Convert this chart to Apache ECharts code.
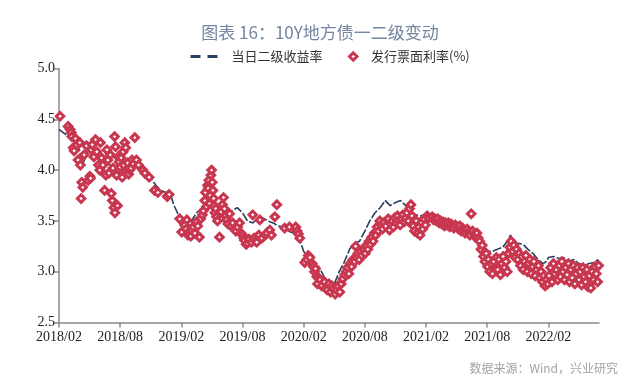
<!DOCTYPE html>
<html>
<head>
<meta charset="utf-8">
<script src="https://cdn.jsdelivr.net/npm/echarts@6/dist/echarts.min.js"></script>
<style>html,body{margin:0;padding:0;background:#fff;}#c{width:640px;height:385px;}</style>
</head>
<body>
<div id="c"></div>
<script>
const titleText = '图表 16：10Y地方债一二级变动';
const seriesNames = ['当日二级收益率', '发行票面利率(%)'];
const sourceText = '数据来源：Wind，兴业研究';
const xTickLabels = ['2018/02','2018/08','2019/02','2019/08','2020/02','2020/08','2021/02','2021/08','2022/02'];
const xStart = '2018-02-01';
const xEnd = '2022-06-30';
const yMin = 2.5, yMax = 5.0, yStep = 0.5;

// secondary-market yield (line)
const lineDates = [
 '2018-02-01','2018-02-16','2018-03-01','2018-03-16','2018-04-01','2018-04-10','2018-04-16','2018-05-01','2018-05-16','2018-06-01','2018-06-16','2018-07-01','2018-07-16','2018-08-01','2018-08-16','2018-09-01','2018-09-16','2018-10-01','2018-10-16','2018-11-01','2018-11-16','2018-12-01','2018-12-16',
 '2019-01-01','2019-01-10','2019-01-20','2019-02-01','2019-02-16','2019-03-01','2019-03-16','2019-04-01','2019-04-16','2019-05-01','2019-05-16','2019-06-01','2019-06-16','2019-07-01','2019-07-16','2019-08-01','2019-08-16','2019-09-01','2019-09-16','2019-10-01','2019-10-16','2019-11-01','2019-11-16','2019-12-01','2019-12-16',
 '2020-01-01','2020-01-16','2020-02-01','2020-02-16','2020-03-01','2020-03-16','2020-04-01','2020-04-16','2020-05-01','2020-05-16','2020-06-01','2020-06-16','2020-07-01','2020-07-16','2020-08-01','2020-08-16','2020-09-01','2020-09-16','2020-10-01','2020-10-16','2020-11-01','2020-11-16','2020-12-01','2020-12-16',
 '2021-01-01','2021-01-16','2021-02-01','2021-02-16','2021-03-01','2021-03-16','2021-04-01','2021-04-16','2021-05-01','2021-05-16','2021-06-01','2021-06-16','2021-07-01','2021-07-16','2021-08-01','2021-08-16','2021-09-01','2021-09-16','2021-10-01','2021-10-10','2021-10-20','2021-11-01','2021-11-16','2021-12-01','2021-12-16',
 '2022-01-01','2022-01-16','2022-01-26','2022-02-01','2022-02-16','2022-03-01','2022-03-16','2022-04-01','2022-04-16','2022-05-01','2022-05-16','2022-06-01','2022-06-16','2022-06-28'
];
const lineValues = [
 4.40,4.36,4.33,4.30,4.20,4.05,4.10,4.24,4.20,4.18,4.12,4.05,4.00,3.97,4.02,4.06,4.08,4.04,3.98,3.92,3.85,3.80,3.78,
 3.74,3.65,3.58,3.45,3.44,3.50,3.58,3.62,3.66,3.64,3.60,3.60,3.58,3.60,3.63,3.58,3.50,3.48,3.52,3.53,3.50,3.48,3.45,3.44,3.40,
 3.38,3.36,3.20,3.12,3.08,3.05,2.95,2.87,2.88,3.00,3.10,3.22,3.28,3.30,3.40,3.50,3.58,3.63,3.70,3.65,3.68,3.70,3.65,3.60,
 3.56,3.55,3.56,3.54,3.52,3.50,3.48,3.47,3.45,3.44,3.45,3.40,3.36,3.25,3.20,3.20,3.22,3.24,3.30,3.36,3.28,3.28,3.27,3.22,3.18,
 3.12,3.08,3.10,3.14,3.15,3.13,3.14,3.10,3.12,3.08,3.06,3.08,3.09,3.12
];

// primary issuance coupon rates (scatter)
const issueDates = [
 '2018-02-04','2018-02-26',
 '2018-03-04','2018-03-07','2018-03-09','2018-03-13','2018-03-16','2018-03-20','2018-03-24','2018-03-28',
 '2018-04-02','2018-04-04','2018-04-06','2018-04-08','2018-04-11','2018-04-15','2018-04-22','2018-04-27',
 '2018-05-02','2018-05-04','2018-05-06','2018-05-09','2018-05-14','2018-05-19','2018-05-23','2018-05-28',
 '2018-06-01','2018-06-03','2018-06-06','2018-06-10','2018-06-15','2018-06-19','2018-06-22','2018-06-25','2018-06-28',
 '2018-07-02','2018-07-05','2018-07-08','2018-07-10','2018-07-13','2018-07-15','2018-07-16','2018-07-18','2018-07-21','2018-07-24','2018-07-26','2018-07-29',
 '2018-08-01','2018-08-04','2018-08-07','2018-08-10','2018-08-12','2018-08-15','2018-08-18','2018-08-21','2018-08-24','2018-08-27','2018-08-30',
 '2018-09-03','2018-09-06','2018-09-10','2018-09-14','2018-09-19','2018-09-25',
 '2018-10-08','2018-10-14','2018-10-27',
 '2018-11-12','2018-11-22',
 '2018-12-20','2018-12-26',
 '2019-01-27',
 '2019-02-02','2019-02-10','2019-02-14','2019-02-16','2019-02-19','2019-02-24','2019-02-27',
 '2019-03-01','2019-03-06','2019-03-11','2019-03-16','2019-03-20','2019-03-25','2019-03-29',
 '2019-04-03','2019-04-06','2019-04-10','2019-04-12','2019-04-15','2019-04-18','2019-04-20','2019-04-22','2019-04-24','2019-04-26','2019-04-28','2019-04-30',
 '2019-05-02','2019-05-04','2019-05-06','2019-05-08','2019-05-10','2019-05-13','2019-05-15','2019-05-18','2019-05-24','2019-05-27','2019-05-29',
 '2019-06-02','2019-06-05','2019-06-08','2019-06-11','2019-06-14','2019-06-18','2019-06-23','2019-06-27',
 '2019-07-02','2019-07-07','2019-07-12','2019-07-17','2019-07-23','2019-07-27',
 '2019-08-01','2019-08-05','2019-08-07','2019-08-12','2019-08-16','2019-08-21','2019-08-28',
 '2019-09-01','2019-09-05','2019-09-09','2019-09-13','2019-09-19','2019-09-22','2019-09-28',
 '2019-10-08','2019-10-13','2019-10-22','2019-10-27',
 '2019-11-06','2019-11-12',
 '2019-12-05','2019-12-20',
 '2020-01-08','2020-01-12','2020-01-16','2020-01-20',
 '2020-02-04','2020-02-10','2020-02-14','2020-02-19','2020-02-25','2020-02-28',
 '2020-03-03','2020-03-06','2020-03-10','2020-03-12','2020-03-15','2020-03-20','2020-03-25',
 '2020-04-02','2020-04-06','2020-04-10','2020-04-15','2020-04-20','2020-04-24','2020-04-28',
 '2020-05-04','2020-05-08','2020-05-12','2020-05-18','2020-05-22','2020-05-27',
 '2020-06-02','2020-06-06','2020-06-10','2020-06-14','2020-06-18','2020-06-22','2020-06-26',
 '2020-07-01','2020-07-04','2020-07-07','2020-07-11','2020-07-15','2020-07-19','2020-07-23','2020-07-28',
 '2020-08-02','2020-08-06','2020-08-10','2020-08-14','2020-08-18','2020-08-22','2020-08-26','2020-08-30',
 '2020-09-03','2020-09-07','2020-09-11','2020-09-15','2020-09-19','2020-09-23','2020-09-27',
 '2020-10-03','2020-10-10','2020-10-14','2020-10-18','2020-10-22','2020-10-26','2020-10-30',
 '2020-11-03','2020-11-07','2020-11-11','2020-11-15','2020-11-19','2020-11-23','2020-11-27',
 '2020-12-01','2020-12-05','2020-12-09','2020-12-13','2020-12-17','2020-12-20','2020-12-24','2020-12-28',
 '2021-01-02','2021-01-06','2021-01-10','2021-01-14','2021-01-18','2021-01-22','2021-01-26','2021-01-30',
 '2021-02-04','2021-02-08','2021-02-18','2021-02-22','2021-02-26',
 '2021-03-02','2021-03-06','2021-03-10','2021-03-14','2021-03-18','2021-03-22','2021-03-26','2021-03-30',
 '2021-04-03','2021-04-07','2021-04-11','2021-04-15','2021-04-19','2021-04-23','2021-04-27',
 '2021-05-03','2021-05-07','2021-05-11','2021-05-15','2021-05-19','2021-05-23','2021-05-27',
 '2021-06-02','2021-06-06','2021-06-10','2021-06-14','2021-06-18','2021-06-22','2021-06-26',
 '2021-07-01','2021-07-05','2021-07-09','2021-07-13','2021-07-17','2021-07-21','2021-07-25','2021-07-29',
 '2021-08-02','2021-08-05','2021-08-09','2021-08-13','2021-08-17','2021-08-21','2021-08-25','2021-08-29',
 '2021-09-02','2021-09-06','2021-09-10','2021-09-14','2021-09-18','2021-09-22','2021-09-26','2021-09-30',
 '2021-10-04','2021-10-08','2021-10-12','2021-10-16','2021-10-20','2021-10-24','2021-10-28',
 '2021-11-01','2021-11-05','2021-11-09','2021-11-13','2021-11-17','2021-11-21','2021-11-25','2021-11-29',
 '2021-12-03','2021-12-07','2021-12-11','2021-12-15','2021-12-19','2021-12-23','2021-12-27',
 '2022-01-02','2022-01-06','2022-01-10','2022-01-14','2022-01-18','2022-01-22','2022-01-26','2022-01-30',
 '2022-02-03','2022-02-07','2022-02-11','2022-02-15','2022-02-19','2022-02-23','2022-02-27',
 '2022-03-03','2022-03-07','2022-03-11','2022-03-15','2022-03-19','2022-03-23','2022-03-27','2022-03-31',
 '2022-04-03','2022-04-07','2022-04-11','2022-04-15','2022-04-19','2022-04-23','2022-04-27',
 '2022-05-01','2022-05-05','2022-05-09','2022-05-13','2022-05-17','2022-05-21','2022-05-25','2022-05-29',
 '2022-06-02','2022-06-06','2022-06-10','2022-06-14','2022-06-18','2022-06-22','2022-06-26','2022-06-29'
];
const issueRates = [
 4.53,4.43,
 4.40,4.37,4.33,4.22,4.19,4.31,4.25,4.10,
 4.27,4.05,3.72,3.88,3.83,4.15,4.24,3.90,
 3.94,3.92,4.20,4.25,4.13,4.30,4.18,4.05,
 4.00,4.27,4.12,4.05,3.80,3.95,4.20,4.10,3.97,
 4.15,3.77,3.70,4.02,3.63,4.33,3.58,4.23,3.95,3.65,4.13,4.08,
 4.03,4.12,3.93,4.18,4.05,4.27,4.22,3.98,4.07,3.96,4.00,
 4.02,4.10,4.06,4.32,4.10,4.05,
 4.00,3.97,3.93,
 3.80,3.78,
 3.74,3.76,
 3.52,
 3.39,3.46,3.42,3.51,3.36,3.40,3.35,
 3.41,3.44,3.38,3.49,3.45,3.34,3.52,
 3.56,3.60,3.70,3.78,3.64,3.85,3.82,3.90,3.67,3.75,3.95,4.00,
 3.88,3.80,3.72,3.65,3.58,3.62,3.54,3.50,3.34,3.60,3.59,
 3.66,3.73,3.62,3.55,3.51,3.47,3.57,3.45,
 3.48,3.42,3.40,3.44,3.48,3.38,
 3.36,3.33,3.31,3.27,3.28,3.32,3.29,
 3.56,3.33,3.30,3.29,3.36,3.51,3.33,
 3.36,3.38,3.41,3.36,
 3.54,3.66,
 3.43,3.44,
 3.44,3.40,3.37,3.33,
 3.09,3.12,3.16,3.14,3.08,3.05,
 3.00,3.03,2.95,2.88,2.94,2.92,2.86,
 2.90,2.84,2.82,2.88,2.80,2.86,2.83,
 2.78,2.82,2.86,2.80,2.88,2.93,
 2.97,3.00,3.04,2.98,3.08,3.05,3.12,
 3.10,3.25,3.14,3.18,3.12,3.20,3.16,3.22,
 3.18,3.26,3.22,3.30,3.27,3.34,3.30,3.38,
 3.36,3.44,3.40,3.50,3.46,3.42,3.48,
 3.45,3.52,3.41,3.47,3.50,3.44,3.53,
 3.48,3.55,3.50,3.46,3.52,3.56,3.49,
 3.53,3.58,3.50,3.62,3.66,3.55,3.45,3.40,
 3.50,3.38,3.44,3.36,3.48,3.42,3.52,3.46,
 3.55,3.53,3.54,3.51,3.52,
 3.50,3.52,3.48,3.50,3.47,3.49,3.45,3.48,
 3.46,3.48,3.44,3.47,3.45,3.43,3.46,
 3.44,3.42,3.45,3.40,3.43,3.41,3.38,
 3.42,3.39,3.36,3.57,3.40,3.37,3.34,
 3.38,3.33,3.30,3.22,3.26,3.15,3.10,3.18,
 3.05,3.12,3.00,3.08,2.98,3.10,3.03,3.14,
 3.02,3.12,2.97,3.08,3.15,3.04,3.10,3.00,
 3.18,3.24,3.30,3.20,3.26,3.14,3.22,
 3.12,3.18,3.06,3.15,3.02,3.10,3.16,3.00,
 3.08,3.12,2.98,3.05,3.10,2.96,3.02,
 3.06,2.94,3.00,2.90,2.96,2.86,2.92,2.88,
 2.96,3.04,2.90,3.08,2.98,3.02,2.92,
 3.06,2.95,3.10,3.00,2.92,3.04,2.97,3.08,
 2.90,3.02,2.94,3.06,2.88,2.98,3.04,
 2.92,3.00,2.87,3.04,2.95,2.90,3.02,2.85,
 2.96,2.84,3.00,2.92,3.05,2.98,2.90,3.06
];

function toMonth(s) {
  const p = s.split(/[-\/]/).map(Number);
  const y = p[0], m = p[1], d = p[2] || 1;
  const dim = new Date(y, m, 0).getDate();
  const s0 = xStart.split('-').map(Number);
  return (y - s0[0]) * 12 + (m - s0[1]) + (d - 1) / dim;
}

const lineData = lineDates.map((d, i) => [toMonth(d), lineValues[i]]);
const issueData = issueDates.map((d, i) => [toMonth(d), issueRates[i]]);
const xTickValues = xTickLabels.map(l => toMonth(l));

const lineColor = '#2b3f5e';
const dotColor = '#c8374f';
const serif = '"Liberation Serif","Times New Roman",serif';
const cjk = '"Noto Sans CJK SC","Noto Sans",sans-serif';

const chart = echarts.init(document.getElementById('c'), null, {renderer: 'canvas'});
chart.setOption({
  animation: false,
  backgroundColor: '#fff',
  title: {
    text: titleText,
    left: 'center',
    top: 19,
    textStyle: {fontFamily: cjk, fontSize: 17, fontWeight: 'normal', color: '#7586a0'}
  },
  legend: [
    {
      data: [seriesNames[0]],
      left: 184, top: 45,
      itemWidth: 28, itemHeight: 10,
      itemStyle: {opacity: 0},
      lineStyle: {width: 3, type: [10, 7], color: lineColor},
      textStyle: {fontFamily: cjk, fontSize: 13, color: '#333', padding: [0, 0, 0, 8]}
    },
    {
      data: [{name: seriesNames[1], icon: 'diamond'}],
      left: 343, top: 45,
      itemWidth: 7.5, itemHeight: 7.5,
      itemStyle: {color: '#fff', borderColor: dotColor, borderWidth: 3},
      textStyle: {fontFamily: cjk, fontSize: 13, color: '#333', padding: [0, 0, 0, 9]}
    }
  ],
  grid: {left: 59, right: 41, top: 68.5, bottom: 62.5, containLabel: false},
  xAxis: {
    type: 'value',
    min: 0,
    max: toMonth(xEnd),
    splitLine: {show: false},
    axisLine: {show: true, onZero: false, lineStyle: {color: '#8a8a8a', width: 1.5}},
    axisTick: {show: true, length: 5, customValues: xTickValues, lineStyle: {color: '#8a8a8a', width: 1.5}},
    axisLabel: {
      customValues: xTickValues,
      margin: 8,
      fontFamily: serif, fontSize: 14, color: '#222',
      formatter: function (v) {
        let best = 0;
        xTickValues.forEach((t, i) => { if (Math.abs(t - v) < Math.abs(xTickValues[best] - v)) best = i; });
        return xTickLabels[best];
      }
    }
  },
  yAxis: {
    type: 'value',
    min: yMin, max: yMax, interval: yStep,
    splitLine: {show: false},
    axisLine: {show: true, lineStyle: {color: '#8a8a8a', width: 1.5}},
    axisTick: {show: true, length: 5, lineStyle: {color: '#8a8a8a', width: 1.5}},
    axisLabel: {margin: 4, fontFamily: serif, fontSize: 14, color: '#222', formatter: v => v.toFixed(1)}
  },
  series: [
    {
      name: seriesNames[0],
      type: 'line',
      data: lineData,
      showSymbol: false,
      symbol: 'none',
      smooth: false,
      lineStyle: {color: lineColor, width: 1.6, type: [9, 2]},
      itemStyle: {color: lineColor},
      z: 2
    },
    {
      name: seriesNames[1],
      type: 'scatter',
      data: issueData,
      symbol: 'diamond',
      symbolSize: 7.5,
      itemStyle: {color: '#fff', borderColor: dotColor, borderWidth: 3, opacity: 1},
      z: 3
    }
  ],
  graphic: [{
    type: 'text',
    right: 22,
    top: 362,
    style: {text: sourceText, fontFamily: cjk, fontSize: 12, fill: '#a3a3a3'}
  }]
});
</script>
</body>
</html>
